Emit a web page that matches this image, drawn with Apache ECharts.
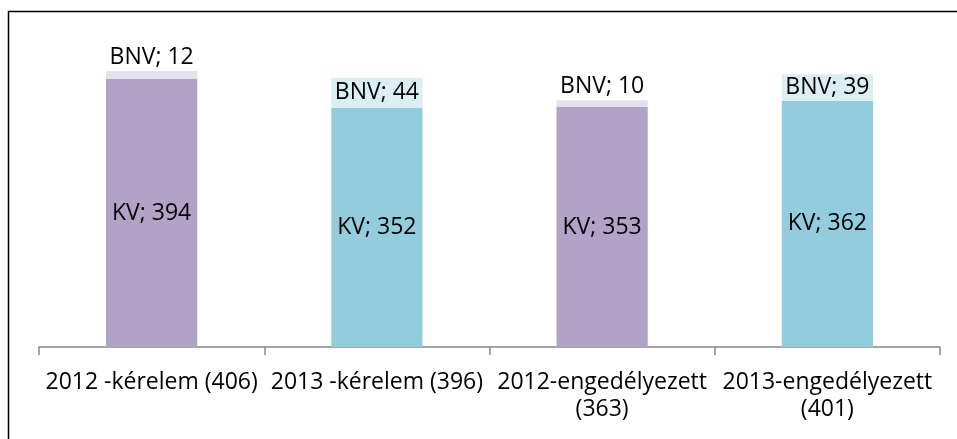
<!DOCTYPE html>
<html><head><meta charset="utf-8">
<script src="https://cdn.jsdelivr.net/npm/echarts@6/dist/echarts.min.js"></script>
<style>html,body{margin:0;padding:0;background:#fff}#c{width:957px;height:439px}</style>
</head><body><div id="c"></div>
<script>
const categories = ['2012 -kérelem (406)', '2013 -kérelem (396)', '2012-engedélyezett\n(363)', '2013-engedélyezett\n(401)'];
const kvValues = [394, 352, 353, 362];
const bnvValues = [12, 44, 10, 39];
const kvColors = ['#b3a2c7', '#93cddd', '#b3a2c7', '#93cddd'];
const bnvColors = ['#e6e0ec', '#dbeef4', '#e6e0ec', '#dbeef4'];
const bnvLabelPos = ['top', 'inside', 'top', 'inside'];

const FONT = 'Open Sans';
const FS = 23;
const chart = echarts.init(document.getElementById('c'));
chart.setOption({
  animation: false,
  graphic: [{
    type: 'rect', shape: { x: 8.5, y: 11.5, width: 1000, height: 500 },
    style: { fill: 'none', stroke: '#000', lineWidth: 1.5 }, silent: true
  }],
  grid: { left: 39, right: 17, top: 7, bottom: 92 },
  xAxis: {
    type: 'category', data: categories,
    axisLine: { lineStyle: { color: '#868686', width: 1.5 } },
    axisTick: { show: true, length: 8, lineStyle: { color: '#868686', width: 1.5 } },
    axisLabel: { color: '#000', fontFamily: FONT, fontSize: FS, margin: 22, lineHeight: 27, interval: 0 }
  },
  yAxis: { type: 'value', min: 0, max: 500, show: false, splitLine: { show: false } },
  series: [
    {
      name: 'KV', type: 'bar', stack: 's', barWidth: '40.5%',
      data: kvValues.map((v, i) => ({ value: v, itemStyle: { color: kvColors[i] } })),
      label: { show: true, position: 'inside', color: '#000', fontFamily: FONT, fontSize: FS, lineHeight: 23,
        formatter: p => 'KV; ' + p.value }
    },
    {
      name: 'BNV', type: 'bar', stack: 's', barWidth: '40.5%',
      data: bnvValues.map((v, i) => ({ value: v, itemStyle: { color: bnvColors[i] },
        label: { position: bnvLabelPos[i], distance: 2 } })),
      label: { show: true, color: '#000', fontFamily: FONT, fontSize: FS, lineHeight: 23,
        formatter: p => 'BNV; ' + p.value }
    }
  ]
});
</script></body></html>
